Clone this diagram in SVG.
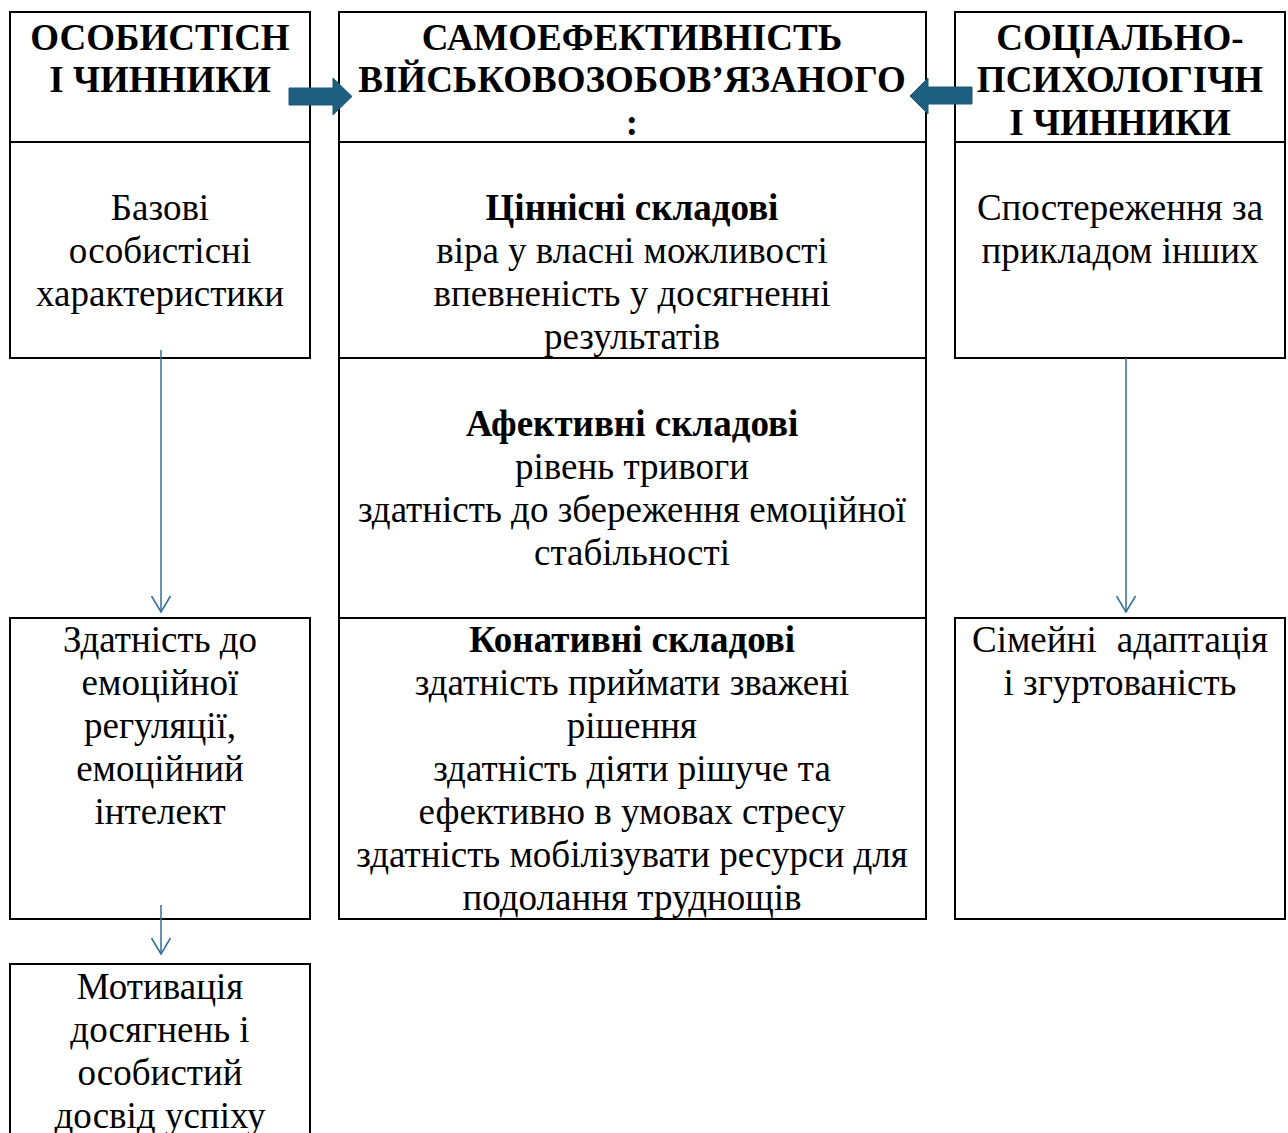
<svg xmlns="http://www.w3.org/2000/svg" width="1288" height="1133" viewBox="0 0 1288 1133">
<style>
.box{fill:#fff;stroke:#000;stroke-width:2}
.h{font-family:"Liberation Serif","Times New Roman",serif;font-weight:bold;font-size:37px;text-anchor:middle;fill:#000}
.t{font-family:"Liberation Serif","Times New Roman",serif;font-size:37px;text-anchor:middle;fill:#000}
.b{font-weight:bold}
.thin{stroke:#2f6f95;stroke-width:1.5;fill:none}
.block{fill:#1d5f80;stroke:#2a5570;stroke-width:1}
</style>
<defs>
<marker id="open" markerWidth="20" markerHeight="22" refX="17" refY="10.5" orient="auto" markerUnits="userSpaceOnUse" viewBox="0 0 20 21">
<path d="M1,1 L17,10.5 L1,20" fill="none" stroke="#2f6f95" stroke-width="1.5"/>
</marker>
</defs>
<g id="left-header"><rect class="box" x="10" y="12" width="300" height="130"/>
<text class="h" x="160"><tspan x="160" y="50">ОСОБИСТІСН</tspan><tspan x="160" y="92">І ЧИННИКИ</tspan></text></g>
<g id="left-1"><rect class="box" x="10" y="142" width="300" height="216"/>
<text class="t"><tspan x="160" y="220">Базові</tspan><tspan x="160" y="263">особистісні</tspan><tspan x="160" y="306">характеристики</tspan></text></g>
<g id="left-2"><rect class="box" x="10" y="618" width="300" height="301"/>
<text class="t"><tspan x="160" y="652">Здатність до</tspan><tspan x="160" y="695">емоційної</tspan><tspan x="160" y="738">регуляції,</tspan><tspan x="160" y="781">емоційний</tspan><tspan x="160" y="824">інтелект</tspan></text></g>
<g id="left-3"><rect class="box" x="10" y="964" width="300" height="200"/>
<text class="t"><tspan x="160" y="999">Мотивація</tspan><tspan x="160" y="1042">досягнень і</tspan><tspan x="160" y="1085">особистий</tspan><tspan x="160" y="1128">досвід успіху</tspan></text></g>
<g id="mid-header"><rect class="box" x="339" y="12" width="587" height="130"/>
<text class="h"><tspan x="632" y="50">САМОЕФЕКТИВНІСТЬ</tspan><tspan x="632" y="92">ВІЙСЬКОВОЗОБОВ’ЯЗАНОГО</tspan><tspan x="632" y="135">:</tspan></text></g>
<g id="mid-1"><rect class="box" x="339" y="142" width="587" height="216"/>
<text class="t"><tspan x="632" y="220" class="b">Ціннісні складові</tspan><tspan x="632" y="263">віра у власні можливості</tspan><tspan x="632" y="306">впевненість у досягненні</tspan><tspan x="632" y="349">результатів</tspan></text></g>
<g id="mid-2"><rect class="box" x="339" y="358" width="587" height="260"/>
<text class="t"><tspan x="632" y="436" class="b">Афективні складові</tspan><tspan x="632" y="479">рівень тривоги</tspan><tspan x="632" y="522">здатність до збереження емоційної</tspan><tspan x="632" y="565">стабільності</tspan></text></g>
<g id="mid-3"><rect class="box" x="339" y="618" width="587" height="301"/>
<text class="t"><tspan x="632" y="652" class="b">Конативні складові</tspan><tspan x="632" y="695">здатність приймати зважені</tspan><tspan x="632" y="738">рішення</tspan><tspan x="632" y="781">здатність діяти рішуче та</tspan><tspan x="632" y="824">ефективно в умовах стресу</tspan><tspan x="632" y="867">здатність мобілізувати ресурси для</tspan><tspan x="632" y="910">подолання труднощів</tspan></text></g>
<g id="right-header"><rect class="box" x="955" y="12" width="330" height="130"/>
<text class="h"><tspan x="1120" y="50">СОЦІАЛЬНО-</tspan><tspan x="1120" y="92">ПСИХОЛОГІЧН</tspan><tspan x="1120" y="135">І ЧИННИКИ</tspan></text></g>
<g id="right-1"><rect class="box" x="955" y="142" width="330" height="216"/>
<text class="t"><tspan x="1120" y="220">Спостереження за</tspan><tspan x="1120" y="263">прикладом інших</tspan></text></g>
<g id="right-2"><rect class="box" x="955" y="618" width="330" height="301"/>
<text class="t"><tspan x="972" y="652" text-anchor="start">Сімейні</tspan><tspan x="1268" y="652" text-anchor="end">адаптація</tspan><tspan x="1120" y="695">і згуртованість</tspan></text></g>
<g id="connectors">
<path class="block" d="M289,88 L333,88 L333,78 L352,96.5 L333,115 L333,105 L289,105 Z"/>
<path class="block" d="M972,87 L928,87 L928,78 L910,96 L928,114 L928,104 L972,104 Z"/>
<line class="thin" x1="161" y1="350" x2="161" y2="612" marker-end="url(#open)"/>
<line class="thin" x1="1126" y1="358" x2="1126" y2="612" marker-end="url(#open)"/>
<line class="thin" x1="161" y1="905" x2="161" y2="954" marker-end="url(#open)"/>
</g>
</svg>
